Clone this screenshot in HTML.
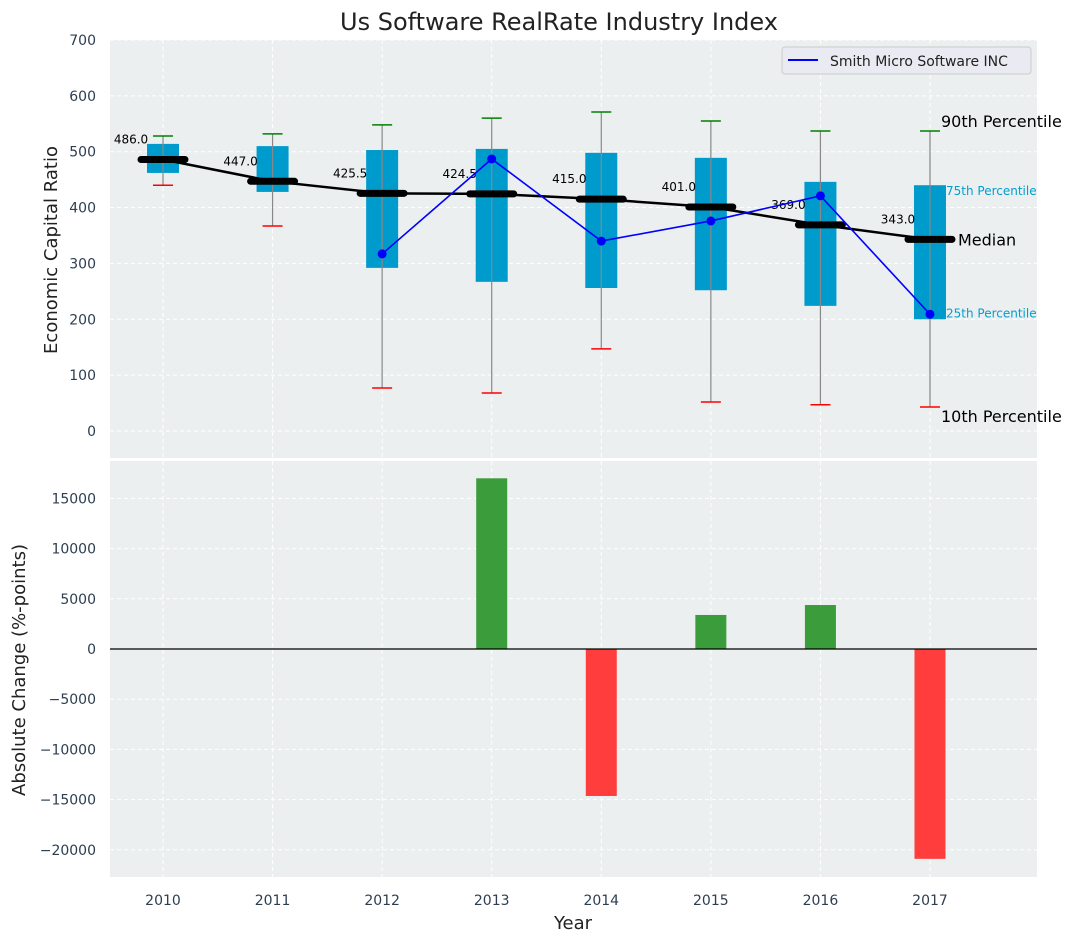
<!DOCTYPE html>
<html><head><meta charset="utf-8"><style>
body{margin:0;background:#fff;font-family:"Liberation Sans","DejaVu Sans",sans-serif}
svg text{font-family:"DejaVu Sans","Liberation Sans",sans-serif}
</style></head><body>
<svg id="c" width="1076" height="942" xmlns="http://www.w3.org/2000/svg">
<text x="559" y="30" text-anchor="middle" font-size="24" fill="#222">Us Software RealRate Industry Index</text>
<rect x="110" y="40" width="927" height="418" fill="#ebeff0"/>
<rect x="110" y="461" width="927" height="416" fill="#ebeff0"/>
<g id="g"></g>
<text x="57" y="250" transform="rotate(-90 57 250)" text-anchor="middle" font-size="18" fill="#222">Economic Capital Ratio</text>
<text x="25" y="670" transform="rotate(-90 25 670)" text-anchor="middle" font-size="18" fill="#222">Absolute Change (%-points)</text>
<text x="573" y="929" text-anchor="middle" font-size="18" fill="#222">Year</text>
<g>
<rect x="782" y="47" width="249" height="27" rx="3" fill="#eaeaf2" stroke="#ccc"/>
<line x1="788" y1="60" x2="818" y2="60" stroke="#0000ff" stroke-width="2"/>
<text x="830" y="66" font-size="14" fill="#222">Smith Micro Software INC</text>
</g>
</svg>
<script>
const years=["2010","2011","2012","2013","2014","2015","2016","2017"];
const p10=[440,367,77,68,147,52,47,43];
const q1=[462,428,292,267,256,252,224,200];
const medians=[486,447,425.5,424.5,415,401,369,343];
const q3=[514,510,503,505,498,489,446,440];
const p90=[528,532,548,560,571,555,537,537];
const companyYears=[2,3,4,5,6,7];
const companyVals=[317,487,340,376,421,209];
const changes=[null,null,null,17000,-14640,3390,4380,-20900];
const topTicks=[0,100,200,300,400,500,600,700];
const botTicks=[-20000,-15000,-10000,-5000,0,5000,10000,15000];
const NS="http://www.w3.org/2000/svg";
const g=document.getElementById('g');
const X=i=>163+i*109.57;
const YT=v=>431-v*0.5586;
const YB=v=>649-v*0.01004;
function mk(t,a,txt){const e=document.createElementNS(NS,t);for(const k in a)e.setAttribute(k,a[k]);if(txt!==undefined)e.textContent=txt;g.appendChild(e);return e;}
topTicks.forEach(v=>{const l=mk('line',{x1:110,x2:1037,y1:YT(v),y2:YT(v),stroke:'#fff','stroke-dasharray':'4,3'});

const t=mk('text',{x:96,y:YT(v)+5,'text-anchor':'end','font-size':14,fill:'#2d3e50'},v);
});
botTicks.forEach(v=>{const l=mk('line',{x1:110,x2:1037,y1:YB(v),y2:YB(v),stroke:'#fff','stroke-dasharray':'4,3'});

const t=mk('text',{x:96,y:YB(v)+5,'text-anchor':'end','font-size':14,fill:'#2d3e50'},v<0?'\u2212'+Math.abs(v):v);
});
years.forEach((y,i)=>{[[40,458],[461,877]].forEach(r=>{const l=mk('line',{x1:X(i),x2:X(i),y1:r[0],y2:r[1],stroke:'#fff','stroke-dasharray':'4,3'});
});
const t=mk('text',{x:X(i),y:905,'text-anchor':'middle','font-size':14,fill:'#2d3e50'},y);
});
years.forEach((y,i)=>{const x=X(i);
const b=mk('rect',{x:x-16,y:YT(q3[i]),width:32,height:YT(q1[i])-YT(q3[i]),fill:'#009bcd'});

const w=mk('line',{x1:x,x2:x,y1:YT(p90[i]),y2:YT(p10[i]),stroke:'#888','stroke-width':1.2});

const c1=mk('line',{x1:x-10,x2:x+10,y1:YT(p90[i]),y2:YT(p90[i]),stroke:'#008000','stroke-width':1.5});

const c2=mk('line',{x1:x-10,x2:x+10,y1:YT(p10[i]),y2:YT(p10[i]),stroke:'#ff0000','stroke-width':1.5});
});
const ml=mk('polyline',{points:medians.map((m,i)=>X(i)+','+YT(m)).join(' '),fill:'none',stroke:'#000','stroke-width':2.5});

years.forEach((y,i)=>{const x=X(i);
const m=mk('line',{x1:x-22,x2:x+22,y1:YT(medians[i]),y2:YT(medians[i]),stroke:'#000','stroke-width':7,'stroke-linecap':'round'});

const t=mk('text',{x:x-32,y:YT(medians[i])-16,'text-anchor':'middle','font-size':12,fill:'#000'},medians[i].toFixed(1));
});
const cl=mk('polyline',{points:companyYears.map((yi,k)=>X(yi)+','+YT(companyVals[k])).join(' '),fill:'none',stroke:'#0000ff','stroke-width':1.6});

companyYears.forEach((yi,k)=>{const p=mk('circle',{cx:X(yi),cy:YT(companyVals[k]),r:4.5,fill:'#0000ff'});
});
const L=7,lx=X(L);
[[p90[L],'90th Percentile',16,'#000',11,-4],[q3[L],'75th Percentile',12,'#00a0d0',16,10],[medians[L],'Median',16,'#000',28,6],[q1[L],'25th Percentile',12,'#00a0d0',16,-2],[p10[L],'10th Percentile',16,'#000',11,15]].forEach(a=>{
const t=mk('text',{x:lx+a[4],y:YT(a[0])+a[5],'font-size':a[2],fill:a[3]},a[1]);
});
changes.forEach((v,i)=>{if(v===null)return;
const r=mk('rect',{x:X(i)-15.5,y:Math.min(YB(v),YB(0)),width:31,height:Math.abs(YB(v)-YB(0)),fill:v>=0?'#3a9c3a':'#ff3d3d'});
});
const z=mk('line',{x1:110,x2:1037,y1:YB(0),y2:YB(0),stroke:'#000','stroke-width':1.2});

</script>
</body></html>
